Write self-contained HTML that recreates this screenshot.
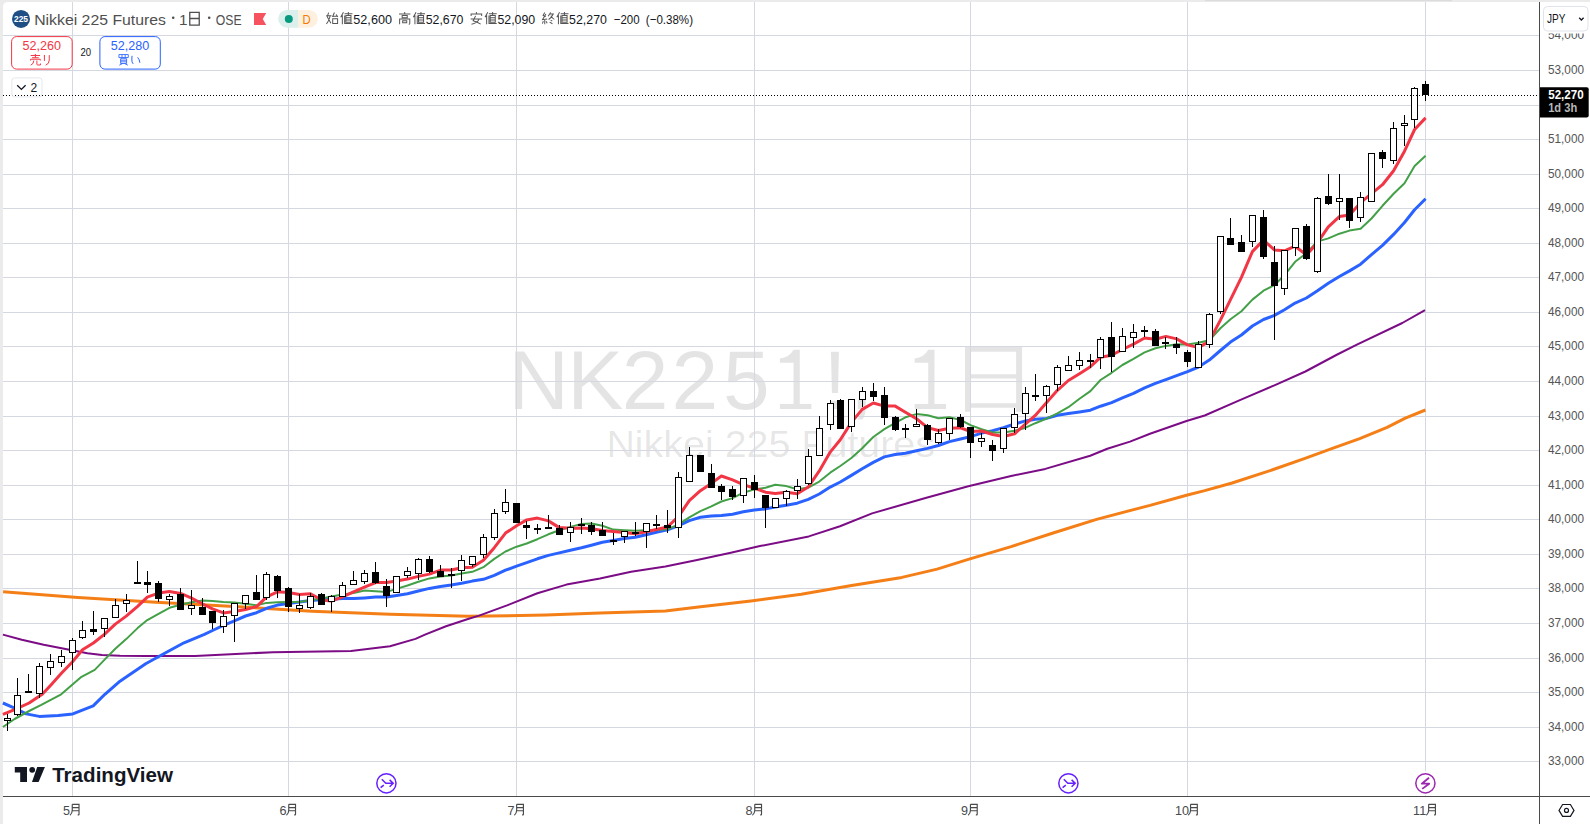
<!DOCTYPE html>
<html><head><meta charset="utf-8"><title>NK2251! chart</title>
<style>html,body{margin:0;padding:0;width:1590px;height:824px;overflow:hidden;background:#ebebeb;font-family:"Liberation Sans",sans-serif}</style>
</head><body>
<svg width="1590" height="824" viewBox="0 0 1590 824" style="position:absolute;left:0;top:0;display:block" font-family="&quot;Liberation Sans&quot;, sans-serif"><rect x="0" y="0" width="1590" height="824" fill="#ebebeb"/><path d="M3,7 Q3,2 8,2 H1590 V824 H3 Z" fill="#ffffff"/><rect x="1205" y="0" width="247" height="1.2" fill="#dcdcdc"/><g fill="#000" fill-opacity="0.105" font-size="84"><text x="508.3" y="409">N</text><text x="567.2" y="409">K</text><text x="621.8" y="409">2</text><text x="671.5" y="409">2</text><text x="723.0" y="409">5</text><text x="823.2" y="409">!</text><text x="850" y="409">,</text><path d="M793.5,349.7 H799.8 V404.1 H811.4000000000001 V408.9 H779.9000000000001 V404.1 H793.5 V362.8 H779.9000000000001 V358.4 Q789.3,357.5 793.5,349.7 Z"/><path d="M928.2,349.7 H934.5 V404.1 H946.1 V408.9 H914.6 V404.1 H928.2 V362.8 H914.6 V358.4 Q924,357.5 928.2,349.7 Z"/><path d="M965,346.8 H1022.1 V411.7 H1016.1 V407.7 H970.9 V411.7 H965 Z M970.9,351.8 V374.2 H1016.1 V351.8 Z M970.9,378.6 V403.3 H1016.1 V378.6 Z" fill-rule="evenodd"/><text transform="translate(606.4,0) scale(1.054,1)" x="0" y="457" font-size="37.4">Nikkei 225 Futures</text></g><g stroke="#d5d8e0" stroke-width="1" shape-rendering="crispEdges"><line x1="3" y1="35.5" x2="1539" y2="35.5"/><line x1="3" y1="70.5" x2="1539" y2="70.5"/><line x1="3" y1="105.5" x2="1539" y2="105.5"/><line x1="3" y1="139.5" x2="1539" y2="139.5"/><line x1="3" y1="174.5" x2="1539" y2="174.5"/><line x1="3" y1="208.5" x2="1539" y2="208.5"/><line x1="3" y1="243.5" x2="1539" y2="243.5"/><line x1="3" y1="277.5" x2="1539" y2="277.5"/><line x1="3" y1="312.5" x2="1539" y2="312.5"/><line x1="3" y1="346.5" x2="1539" y2="346.5"/><line x1="3" y1="381.5" x2="1539" y2="381.5"/><line x1="3" y1="416.5" x2="1539" y2="416.5"/><line x1="3" y1="450.5" x2="1539" y2="450.5"/><line x1="3" y1="485.5" x2="1539" y2="485.5"/><line x1="3" y1="519.5" x2="1539" y2="519.5"/><line x1="3" y1="554.5" x2="1539" y2="554.5"/><line x1="3" y1="588.5" x2="1539" y2="588.5"/><line x1="3" y1="623.5" x2="1539" y2="623.5"/><line x1="3" y1="658.5" x2="1539" y2="658.5"/><line x1="3" y1="692.5" x2="1539" y2="692.5"/><line x1="3" y1="727.5" x2="1539" y2="727.5"/><line x1="3" y1="761.5" x2="1539" y2="761.5"/><line x1="72.5" y1="2" x2="72.5" y2="796"/><line x1="288.5" y1="2" x2="288.5" y2="796"/><line x1="516.5" y1="2" x2="516.5" y2="796"/><line x1="754.5" y1="2" x2="754.5" y2="796"/><line x1="970.5" y1="2" x2="970.5" y2="796"/><line x1="1187.5" y1="2" x2="1187.5" y2="796"/><line x1="1425.5" y1="2" x2="1425.5" y2="796"/></g><path d="M3.1,591.7 L78.0,597.5 L156.0,602.2 L234.0,606.5 L312.0,611.2 L390.0,614.3 L468.0,616.3 L546.0,615.1 L600.0,613.1 L665.4,611.1 L700.6,606.8 L750.9,601.0 L801.3,594.2 L851.6,585.4 L901.9,577.4 L937.1,569.1 L968.3,559.4 L1011.1,546.6 L1053.9,532.7 L1096.6,519.4 L1139.4,508.1 L1150.0,505.4 L1186.5,495.2 L1204.7,490.6 L1232.1,483.0 L1274.0,469.3 L1305.0,458.4 L1332.4,448.3 L1359.7,438.7 L1387.1,427.4 L1405.3,418.2 L1425.4,410.0" fill="none" stroke="#f57f17" stroke-width="3" stroke-linejoin="round" stroke-linecap="butt"/><path d="M2.9,634.6 L21.8,639.7 L43.7,644.8 L65.5,649.1 L87.4,653.2 L101.9,655.0 L120.0,655.7 L145.7,656.0 L195.0,656.0 L273.0,652.2 L351.0,651.0 L390.0,646.3 L415.5,638.9 L425.0,634.6 L446.0,626.2 L468.0,619.0 L479.1,615.6 L507.0,605.4 L537.4,593.3 L566.5,584.6 L600.0,578.4 L631.1,571.7 L665.4,566.5 L697.1,560.1 L730.8,552.7 L760.0,546.1 L808.8,536.4 L840.0,526.2 L872.1,513.4 L925.5,498.0 L968.3,486.2 L1011.1,476.0 L1045.3,468.9 L1090.2,455.7 L1107.3,448.8 L1130.0,441.6 L1150.0,433.7 L1186.5,421.0 L1204.7,415.5 L1239.3,400.4 L1274.4,385.3 L1305.4,371.5 L1336.3,355.0 L1356.9,344.7 L1402.3,323.0 L1425.0,310.2" fill="none" stroke="#7b0c86" stroke-width="2" stroke-linejoin="round" stroke-linecap="butt"/><path d="M2.9,703.0 L14.6,708.1 L26.2,713.9 L39.3,716.4 L58.3,715.4 L72.8,713.9 L93.2,705.9 L104.9,694.3 L120.0,681.2 L126.2,677.1 L145.7,663.8 L167.0,652.0 L184.0,642.8 L204.4,634.3 L212.5,630.5 L223.4,625.4 L234.4,620.8 L245.5,616.0 L256.5,612.7 L266.7,608.3 L277.4,605.1 L288.4,603.4 L299.5,602.1 L310.5,600.4 L321.6,599.7 L331.4,599.3 L342.5,598.6 L353.5,598.5 L364.5,597.9 L375.6,597.1 L386.6,597.1 L396.5,595.4 L407.5,593.8 L418.4,591.0 L429.4,588.4 L440.5,586.4 L451.2,585.0 L461.7,583.3 L472.3,581.1 L483.4,579.3 L494.3,575.4 L505.5,570.2 L516.6,566.1 L526.7,562.7 L537.4,558.8 L548.4,555.4 L559.3,552.9 L570.4,550.2 L581.5,547.8 L591.4,545.3 L602.4,542.3 L613.2,540.5 L624.3,538.5 L635.3,537.2 L646.2,534.8 L656.3,532.2 L667.4,529.8 L678.6,525.7 L689.3,520.6 L700.4,517.3 L711.3,516.1 L721.4,515.6 L732.6,514.2 L743.3,511.8 L754.4,509.9 L765.5,508.9 L775.2,507.0 L786.3,505.2 L797.2,503.2 L808.3,499.4 L819.3,494.0 L830.2,487.1 L840.3,482.0 L851.4,475.4 L862.2,468.8 L873.3,462.4 L884.4,456.9 L895.2,454.5 L905.4,453.2 L916.5,450.8 L927.6,448.4 L938.4,445.5 L949.5,441.6 L960.6,439.0 L970.5,436.6 L981.6,433.1 L992.6,430.8 L1003.5,427.6 L1014.6,424.0 L1025.6,420.9 L1035.3,419.3 L1046.6,418.4 L1057.4,415.3 L1068.4,413.6 L1079.5,412.0 L1090.4,410.2 L1100.5,406.2 L1111.6,402.6 L1122.4,397.9 L1133.5,393.3 L1144.6,387.8 L1155.4,383.4 L1165.9,379.6 L1176.6,375.7 L1187.5,371.7 L1198.5,367.0 L1209.3,360.1 L1220.4,350.5 L1230.5,342.1 L1241.4,335.0 L1252.4,326.0 L1263.5,319.5 L1274.4,315.4 L1284.5,309.7 L1295.1,303.1 L1306.4,298.0 L1317.1,291.0 L1328.3,283.3 L1339.4,276.5 L1349.5,270.9 L1360.6,264.2 L1371.5,254.6 L1382.5,245.4 L1393.6,234.4 L1404.5,222.5 L1414.6,209.7 L1425.6,198.7" fill="none" stroke="#2962ff" stroke-width="3" stroke-linejoin="round" stroke-linecap="butt"/><path d="M2.9,727.0 L14.6,719.0 L29.1,711.0 L40.8,705.2 L61.2,694.3 L81.5,676.8 L94.7,669.9 L104.4,659.9 L115.3,648.7 L126.2,639.1 L137.6,628.1 L147.3,620.1 L158.5,613.8 L169.5,607.8 L180.6,604.8 L191.6,602.3 L202.7,600.6 L212.5,601.0 L223.4,602.1 L234.4,602.5 L245.5,603.8 L256.5,605.3 L266.7,602.9 L277.4,602.3 L288.4,602.0 L299.5,602.1 L310.5,600.2 L321.6,598.5 L331.4,596.5 L342.5,594.6 L353.5,593.1 L364.5,590.5 L375.6,591.3 L386.6,591.9 L396.5,588.9 L407.5,585.5 L418.4,581.8 L429.4,578.4 L440.5,576.4 L451.2,575.4 L461.7,573.4 L472.3,571.8 L483.4,567.2 L494.3,558.9 L505.5,551.5 L516.6,546.7 L526.7,543.5 L537.4,539.2 L548.4,534.3 L559.3,530.3 L570.4,526.9 L581.5,523.9 L591.4,523.4 L602.4,525.8 L613.2,529.6 L624.3,530.3 L635.3,530.8 L646.2,530.3 L656.3,530.0 L667.4,529.3 L678.6,524.4 L689.3,517.3 L700.4,511.2 L711.3,506.4 L721.4,501.5 L732.6,498.1 L743.3,492.7 L754.4,489.4 L765.5,487.8 L775.2,484.7 L786.3,486.1 L797.2,489.2 L808.3,487.6 L819.3,481.6 L830.2,472.7 L840.3,466.0 L851.4,458.0 L862.2,448.2 L873.3,437.0 L884.4,429.1 L895.2,422.9 L905.4,417.3 L916.5,414.1 L927.6,415.3 L938.4,418.3 L949.5,417.2 L960.6,420.0 L970.5,425.1 L981.6,429.3 L992.6,432.5 L1003.5,432.4 L1014.6,430.8 L1025.6,427.7 L1035.3,423.2 L1046.6,418.6 L1057.4,413.4 L1068.4,407.2 L1079.5,398.8 L1090.4,391.1 L1100.5,380.0 L1111.6,372.8 L1122.4,365.0 L1133.5,358.9 L1144.6,352.4 L1155.4,348.3 L1165.9,345.9 L1176.6,344.2 L1187.5,344.5 L1198.5,342.8 L1209.3,340.3 L1220.4,328.3 L1230.5,319.2 L1241.4,311.2 L1252.4,299.6 L1263.5,290.7 L1274.4,285.0 L1284.5,275.2 L1295.1,261.8 L1306.4,253.3 L1317.1,241.6 L1328.3,238.4 L1339.4,233.7 L1349.5,230.6 L1360.6,228.8 L1371.5,218.5 L1382.5,205.8 L1393.6,193.7 L1404.5,183.2 L1414.6,166.1 L1425.6,155.8" fill="none" stroke="#43a047" stroke-width="2" stroke-linejoin="round" stroke-linecap="butt"/><path d="M2.9,714.4 L14.6,709.6 L29.1,703.0 L42.2,694.3 L50.5,685.4 L61.4,673.2 L72.3,662.0 L82.5,649.8 L93.4,643.0 L104.4,634.4 L115.3,624.1 L126.2,616.1 L137.6,606.4 L147.3,597.1 L158.5,593.1 L169.5,591.4 L180.6,593.4 L191.6,598.1 L202.7,604.0 L212.5,608.9 L223.4,612.9 L234.4,611.6 L245.5,609.6 L256.5,606.6 L266.7,596.9 L277.4,591.8 L288.4,592.5 L299.5,594.5 L310.5,593.8 L321.6,600.0 L331.4,601.1 L342.5,596.8 L353.5,591.8 L364.5,587.2 L375.6,582.6 L386.6,582.6 L396.5,580.9 L407.5,579.1 L418.4,576.4 L429.4,574.1 L440.5,570.1 L451.2,570.0 L461.7,567.8 L472.3,567.2 L483.4,560.3 L494.3,547.7 L505.5,533.1 L516.6,525.7 L526.7,519.9 L537.4,518.1 L548.4,520.9 L559.3,527.6 L570.4,528.2 L581.5,527.9 L591.4,528.8 L602.4,530.6 L613.2,531.6 L624.3,532.5 L635.3,533.8 L646.2,531.8 L656.3,529.5 L667.4,527.0 L678.6,516.3 L689.3,500.7 L700.4,490.7 L711.3,483.4 L721.4,476.0 L732.6,479.9 L743.3,484.6 L754.4,488.2 L765.5,492.2 L775.2,493.4 L786.3,492.3 L797.2,493.7 L808.3,487.0 L819.3,470.9 L830.2,452.1 L840.3,439.7 L851.4,422.4 L862.2,409.4 L873.3,403.0 L884.4,406.1 L895.2,406.1 L905.4,412.2 L916.5,418.8 L927.6,427.6 L938.4,430.5 L949.5,428.3 L960.6,427.8 L970.5,431.5 L981.6,431.0 L992.6,434.5 L1003.5,436.5 L1014.6,433.8 L1025.6,423.9 L1035.3,415.4 L1046.6,402.6 L1057.4,390.3 L1068.4,380.5 L1079.5,373.7 L1090.4,366.7 L1100.5,357.3 L1111.6,355.3 L1122.4,349.5 L1133.5,344.1 L1144.6,338.0 L1155.4,339.3 L1165.9,336.4 L1176.6,338.9 L1187.5,344.9 L1198.5,347.6 L1209.3,341.3 L1220.4,320.1 L1230.5,299.6 L1241.4,277.4 L1252.4,251.6 L1263.5,240.1 L1274.4,249.9 L1284.5,250.8 L1295.1,246.2 L1306.4,254.9 L1317.1,243.2 L1328.3,226.9 L1339.4,216.6 L1349.5,215.1 L1360.6,202.7 L1371.5,193.7 L1382.5,184.7 L1393.6,170.7 L1404.5,151.2 L1414.6,129.5 L1425.6,117.9" fill="none" stroke="#f23645" stroke-width="3" stroke-linejoin="round" stroke-linecap="butt"/><g shape-rendering="crispEdges"><rect x="7" y="714.3" width="1" height="16.2" fill="#000"/><rect x="4" y="718" width="7" height="3" fill="#000"/><rect x="5" y="719" width="5" height="1" fill="#fff"/><rect x="17" y="678.3" width="1" height="37.7" fill="#000"/><rect x="14" y="695" width="7" height="20" fill="#000"/><rect x="15" y="696" width="5" height="18" fill="#fff"/><rect x="28" y="674.0" width="1" height="18.4" fill="#000"/><rect x="25" y="691" width="7" height="2" fill="#000"/><rect x="39" y="662.6" width="1" height="35.2" fill="#000"/><rect x="36" y="666" width="7" height="28" fill="#000"/><rect x="37" y="667" width="5" height="26" fill="#fff"/><rect x="50" y="654.0" width="1" height="20.7" fill="#000"/><rect x="47" y="661" width="7" height="7" fill="#000"/><rect x="48" y="662" width="5" height="5" fill="#fff"/><rect x="61" y="650.4" width="1" height="17.0" fill="#000"/><rect x="58" y="656" width="7" height="7" fill="#000"/><rect x="59" y="657" width="5" height="5" fill="#fff"/><rect x="72" y="638.3" width="1" height="31.6" fill="#000"/><rect x="69" y="640" width="7" height="13" fill="#000"/><rect x="70" y="641" width="5" height="11" fill="#fff"/><rect x="82" y="621.3" width="1" height="17.7" fill="#000"/><rect x="79" y="630" width="7" height="8" fill="#000"/><rect x="80" y="631" width="5" height="6" fill="#fff"/><rect x="93" y="611.0" width="1" height="23.7" fill="#000"/><rect x="90" y="629" width="7" height="3" fill="#000"/><rect x="104" y="618.4" width="1" height="18.6" fill="#000"/><rect x="101" y="618" width="7" height="11" fill="#000"/><rect x="102" y="619" width="5" height="9" fill="#fff"/><rect x="115" y="599.0" width="1" height="18.7" fill="#000"/><rect x="112" y="605" width="7" height="13" fill="#000"/><rect x="113" y="606" width="5" height="11" fill="#fff"/><rect x="126" y="594.0" width="1" height="18.0" fill="#000"/><rect x="123" y="600" width="7" height="4" fill="#000"/><rect x="124" y="601" width="5" height="2" fill="#fff"/><rect x="137" y="561.4" width="1" height="21.1" fill="#000"/><rect x="134" y="582" width="7" height="2" fill="#000"/><rect x="147" y="571.0" width="1" height="22.0" fill="#000"/><rect x="144" y="582" width="7" height="3" fill="#000"/><rect x="158" y="580.8" width="1" height="20.7" fill="#000"/><rect x="155" y="583" width="7" height="16" fill="#000"/><rect x="169" y="594.0" width="1" height="12.0" fill="#000"/><rect x="166" y="596" width="7" height="4" fill="#000"/><rect x="167" y="597" width="5" height="2" fill="#fff"/><rect x="180" y="588.0" width="1" height="21.6" fill="#000"/><rect x="177" y="594" width="7" height="16" fill="#000"/><rect x="191" y="590.0" width="1" height="24.7" fill="#000"/><rect x="188" y="605" width="7" height="4" fill="#000"/><rect x="189" y="606" width="5" height="2" fill="#fff"/><rect x="202" y="598.0" width="1" height="16.7" fill="#000"/><rect x="199" y="607" width="7" height="8" fill="#000"/><rect x="212" y="611.0" width="1" height="17.7" fill="#000"/><rect x="209" y="611" width="7" height="12" fill="#000"/><rect x="223" y="610.0" width="1" height="22.6" fill="#000"/><rect x="220" y="616" width="7" height="11" fill="#000"/><rect x="221" y="617" width="5" height="9" fill="#fff"/><rect x="234" y="603.4" width="1" height="38.5" fill="#000"/><rect x="231" y="603" width="7" height="13" fill="#000"/><rect x="232" y="604" width="5" height="11" fill="#fff"/><rect x="245" y="595.2" width="1" height="13.6" fill="#000"/><rect x="242" y="595" width="7" height="9" fill="#000"/><rect x="243" y="596" width="5" height="7" fill="#fff"/><rect x="256" y="575.2" width="1" height="24.6" fill="#000"/><rect x="253" y="592" width="7" height="8" fill="#000"/><rect x="266" y="572.0" width="1" height="27.8" fill="#000"/><rect x="263" y="574" width="7" height="24" fill="#000"/><rect x="264" y="575" width="5" height="22" fill="#fff"/><rect x="277" y="575.2" width="1" height="22.5" fill="#000"/><rect x="274" y="576" width="7" height="15" fill="#000"/><rect x="288" y="587.2" width="1" height="24.5" fill="#000"/><rect x="285" y="588" width="7" height="19" fill="#000"/><rect x="299" y="594.0" width="1" height="18.7" fill="#000"/><rect x="296" y="605" width="7" height="4" fill="#000"/><rect x="297" y="606" width="5" height="2" fill="#fff"/><rect x="310" y="593.4" width="1" height="15.3" fill="#000"/><rect x="307" y="596" width="7" height="12" fill="#000"/><rect x="308" y="597" width="5" height="10" fill="#fff"/><rect x="321" y="593.4" width="1" height="12.0" fill="#000"/><rect x="318" y="594" width="7" height="11" fill="#000"/><rect x="331" y="594.7" width="1" height="17.0" fill="#000"/><rect x="328" y="596" width="7" height="6" fill="#000"/><rect x="329" y="597" width="5" height="4" fill="#fff"/><rect x="342" y="582.3" width="1" height="15.0" fill="#000"/><rect x="339" y="585" width="7" height="12" fill="#000"/><rect x="340" y="586" width="5" height="10" fill="#fff"/><rect x="353" y="571.0" width="1" height="14.4" fill="#000"/><rect x="350" y="580" width="7" height="5" fill="#000"/><rect x="351" y="581" width="5" height="3" fill="#fff"/><rect x="364" y="570.1" width="1" height="13.6" fill="#000"/><rect x="361" y="573" width="7" height="9" fill="#000"/><rect x="362" y="574" width="5" height="7" fill="#fff"/><rect x="375" y="562.1" width="1" height="22.1" fill="#000"/><rect x="372" y="572" width="7" height="11" fill="#000"/><rect x="386" y="579.1" width="1" height="27.5" fill="#000"/><rect x="383" y="586" width="7" height="10" fill="#000"/><rect x="396" y="576.4" width="1" height="17.0" fill="#000"/><rect x="393" y="576" width="7" height="17" fill="#000"/><rect x="394" y="577" width="5" height="15" fill="#fff"/><rect x="407" y="567.2" width="1" height="10.5" fill="#000"/><rect x="404" y="571" width="7" height="5" fill="#000"/><rect x="405" y="572" width="5" height="3" fill="#fff"/><rect x="418" y="558.2" width="1" height="22.1" fill="#000"/><rect x="415" y="559" width="7" height="15" fill="#000"/><rect x="416" y="560" width="5" height="13" fill="#fff"/><rect x="429" y="556.0" width="1" height="16.7" fill="#000"/><rect x="426" y="559" width="7" height="13" fill="#000"/><rect x="440" y="565.0" width="1" height="11.6" fill="#000"/><rect x="437" y="571" width="7" height="6" fill="#000"/><rect x="451" y="568.4" width="1" height="19.2" fill="#000"/><rect x="448" y="574" width="7" height="2" fill="#000"/><rect x="461" y="554.9" width="1" height="25.8" fill="#000"/><rect x="458" y="560" width="7" height="11" fill="#000"/><rect x="459" y="561" width="5" height="9" fill="#fff"/><rect x="472" y="556.4" width="1" height="10.7" fill="#000"/><rect x="469" y="556" width="7" height="9" fill="#000"/><rect x="470" y="557" width="5" height="7" fill="#fff"/><rect x="483" y="534.1" width="1" height="23.7" fill="#000"/><rect x="480" y="537" width="7" height="18" fill="#000"/><rect x="481" y="538" width="5" height="16" fill="#fff"/><rect x="494" y="509.4" width="1" height="30.1" fill="#000"/><rect x="491" y="513" width="7" height="25" fill="#000"/><rect x="492" y="514" width="5" height="23" fill="#fff"/><rect x="505" y="489.0" width="1" height="24.7" fill="#000"/><rect x="502" y="502" width="7" height="10" fill="#000"/><rect x="503" y="503" width="5" height="8" fill="#fff"/><rect x="516" y="503.4" width="1" height="20.0" fill="#000"/><rect x="513" y="503" width="7" height="20" fill="#000"/><rect x="526" y="521.0" width="1" height="17.5" fill="#000"/><rect x="523" y="525" width="7" height="3" fill="#000"/><rect x="537" y="524.4" width="1" height="9.3" fill="#000"/><rect x="534" y="528" width="7" height="2" fill="#000"/><rect x="548" y="515.2" width="1" height="14.0" fill="#000"/><rect x="545" y="527" width="7" height="2" fill="#000"/><rect x="559" y="525.3" width="1" height="10.1" fill="#000"/><rect x="556" y="528" width="7" height="7" fill="#000"/><rect x="570" y="522.0" width="1" height="19.5" fill="#000"/><rect x="567" y="527" width="7" height="6" fill="#000"/><rect x="568" y="528" width="5" height="4" fill="#fff"/><rect x="581" y="518.2" width="1" height="15.5" fill="#000"/><rect x="578" y="524" width="7" height="2" fill="#000"/><rect x="591" y="521.5" width="1" height="13.0" fill="#000"/><rect x="588" y="525" width="7" height="7" fill="#000"/><rect x="602" y="521.5" width="1" height="14.9" fill="#000"/><rect x="599" y="530" width="7" height="6" fill="#000"/><rect x="613" y="532.9" width="1" height="11.7" fill="#000"/><rect x="610" y="540" width="7" height="2" fill="#000"/><rect x="624" y="531.0" width="1" height="11.6" fill="#000"/><rect x="621" y="531" width="7" height="6" fill="#000"/><rect x="622" y="532" width="5" height="4" fill="#fff"/><rect x="635" y="522.2" width="1" height="13.6" fill="#000"/><rect x="632" y="532" width="7" height="2" fill="#000"/><rect x="646" y="522.6" width="1" height="25.8" fill="#000"/><rect x="643" y="523" width="7" height="9" fill="#000"/><rect x="644" y="524" width="5" height="7" fill="#fff"/><rect x="656" y="514.9" width="1" height="14.1" fill="#000"/><rect x="653" y="524" width="7" height="2" fill="#000"/><rect x="667" y="510.0" width="1" height="23.3" fill="#000"/><rect x="664" y="525" width="7" height="3" fill="#000"/><rect x="678" y="471.7" width="1" height="66.1" fill="#000"/><rect x="675" y="477" width="7" height="51" fill="#000"/><rect x="676" y="478" width="5" height="49" fill="#fff"/><rect x="689" y="447.1" width="1" height="34.4" fill="#000"/><rect x="686" y="455" width="7" height="27" fill="#000"/><rect x="687" y="456" width="5" height="25" fill="#fff"/><rect x="700" y="455.2" width="1" height="17.1" fill="#000"/><rect x="697" y="455" width="7" height="17" fill="#000"/><rect x="711" y="464.4" width="1" height="23.9" fill="#000"/><rect x="708" y="473" width="7" height="15" fill="#000"/><rect x="721" y="484.4" width="1" height="15.1" fill="#000"/><rect x="718" y="486" width="7" height="6" fill="#000"/><rect x="732" y="486.3" width="1" height="13.2" fill="#000"/><rect x="729" y="489" width="7" height="8" fill="#000"/><rect x="743" y="478.5" width="1" height="24.3" fill="#000"/><rect x="740" y="478" width="7" height="18" fill="#000"/><rect x="741" y="479" width="5" height="16" fill="#fff"/><rect x="754" y="475.2" width="1" height="23.1" fill="#000"/><rect x="751" y="482" width="7" height="8" fill="#000"/><rect x="765" y="495.2" width="1" height="33.1" fill="#000"/><rect x="762" y="495" width="7" height="13" fill="#000"/><rect x="775" y="497.6" width="1" height="9.9" fill="#000"/><rect x="772" y="498" width="7" height="10" fill="#000"/><rect x="773" y="499" width="5" height="8" fill="#fff"/><rect x="786" y="490.4" width="1" height="15.5" fill="#000"/><rect x="783" y="491" width="7" height="8" fill="#000"/><rect x="784" y="492" width="5" height="6" fill="#fff"/><rect x="797" y="479.3" width="1" height="19.2" fill="#000"/><rect x="794" y="486" width="7" height="5" fill="#000"/><rect x="795" y="487" width="5" height="3" fill="#fff"/><rect x="808" y="449.2" width="1" height="35.4" fill="#000"/><rect x="805" y="456" width="7" height="28" fill="#000"/><rect x="806" y="457" width="5" height="26" fill="#fff"/><rect x="819" y="416.2" width="1" height="40.2" fill="#000"/><rect x="816" y="428" width="7" height="28" fill="#000"/><rect x="817" y="429" width="5" height="26" fill="#fff"/><rect x="830" y="400.1" width="1" height="29.5" fill="#000"/><rect x="827" y="403" width="7" height="22" fill="#000"/><rect x="828" y="404" width="5" height="20" fill="#fff"/><rect x="840" y="399.1" width="1" height="30.1" fill="#000"/><rect x="837" y="400" width="7" height="29" fill="#000"/><rect x="851" y="399.1" width="1" height="32.6" fill="#000"/><rect x="848" y="399" width="7" height="28" fill="#000"/><rect x="849" y="400" width="5" height="26" fill="#fff"/><rect x="862" y="387.1" width="1" height="19.8" fill="#000"/><rect x="859" y="391" width="7" height="9" fill="#000"/><rect x="860" y="392" width="5" height="7" fill="#fff"/><rect x="873" y="383.2" width="1" height="17.9" fill="#000"/><rect x="870" y="391" width="7" height="6" fill="#000"/><rect x="884" y="387.1" width="1" height="38.2" fill="#000"/><rect x="881" y="395" width="7" height="23" fill="#000"/><rect x="895" y="415.6" width="1" height="15.0" fill="#000"/><rect x="892" y="417" width="7" height="13" fill="#000"/><rect x="905" y="424.4" width="1" height="13.9" fill="#000"/><rect x="902" y="428" width="7" height="2" fill="#000"/><rect x="916" y="409.2" width="1" height="18.1" fill="#000"/><rect x="913" y="424" width="7" height="3" fill="#000"/><rect x="914" y="425" width="5" height="1" fill="#fff"/><rect x="927" y="424.4" width="1" height="20.9" fill="#000"/><rect x="924" y="425" width="7" height="15" fill="#000"/><rect x="938" y="429.2" width="1" height="14.6" fill="#000"/><rect x="935" y="433" width="7" height="10" fill="#000"/><rect x="936" y="434" width="5" height="8" fill="#fff"/><rect x="949" y="418.5" width="1" height="21.0" fill="#000"/><rect x="946" y="418" width="7" height="16" fill="#000"/><rect x="947" y="419" width="5" height="14" fill="#fff"/><rect x="960" y="414.3" width="1" height="14.0" fill="#000"/><rect x="957" y="417" width="7" height="10" fill="#000"/><rect x="970" y="427.3" width="1" height="30.5" fill="#000"/><rect x="967" y="427" width="7" height="16" fill="#000"/><rect x="981" y="433.1" width="1" height="13.6" fill="#000"/><rect x="978" y="438" width="7" height="4" fill="#000"/><rect x="979" y="439" width="5" height="2" fill="#fff"/><rect x="992" y="440.3" width="1" height="20.4" fill="#000"/><rect x="989" y="445" width="7" height="6" fill="#000"/><rect x="1003" y="428.3" width="1" height="24.2" fill="#000"/><rect x="1000" y="428" width="7" height="21" fill="#000"/><rect x="1001" y="429" width="5" height="19" fill="#fff"/><rect x="1014" y="408.3" width="1" height="24.4" fill="#000"/><rect x="1011" y="414" width="7" height="14" fill="#000"/><rect x="1012" y="415" width="5" height="12" fill="#fff"/><rect x="1025" y="386.5" width="1" height="43.3" fill="#000"/><rect x="1022" y="393" width="7" height="21" fill="#000"/><rect x="1023" y="394" width="5" height="19" fill="#fff"/><rect x="1035" y="373.9" width="1" height="26.8" fill="#000"/><rect x="1032" y="395" width="7" height="2" fill="#000"/><rect x="1046" y="385.1" width="1" height="27.6" fill="#000"/><rect x="1043" y="386" width="7" height="10" fill="#000"/><rect x="1044" y="387" width="5" height="8" fill="#fff"/><rect x="1057" y="365.0" width="1" height="26.3" fill="#000"/><rect x="1054" y="367" width="7" height="18" fill="#000"/><rect x="1055" y="368" width="5" height="16" fill="#fff"/><rect x="1068" y="356.3" width="1" height="15.0" fill="#000"/><rect x="1065" y="365" width="7" height="6" fill="#000"/><rect x="1066" y="366" width="5" height="4" fill="#fff"/><rect x="1079" y="352.0" width="1" height="17.5" fill="#000"/><rect x="1076" y="360" width="7" height="6" fill="#000"/><rect x="1077" y="361" width="5" height="4" fill="#fff"/><rect x="1090" y="354.4" width="1" height="13.2" fill="#000"/><rect x="1087" y="360" width="7" height="2" fill="#000"/><rect x="1100" y="336.9" width="1" height="31.6" fill="#000"/><rect x="1097" y="339" width="7" height="19" fill="#000"/><rect x="1098" y="340" width="5" height="17" fill="#fff"/><rect x="1111" y="322.3" width="1" height="49.5" fill="#000"/><rect x="1108" y="337" width="7" height="20" fill="#000"/><rect x="1122" y="328.2" width="1" height="24.2" fill="#000"/><rect x="1119" y="336" width="7" height="16" fill="#000"/><rect x="1120" y="337" width="5" height="14" fill="#fff"/><rect x="1133" y="324.3" width="1" height="23.3" fill="#000"/><rect x="1130" y="332" width="7" height="6" fill="#000"/><rect x="1131" y="333" width="5" height="4" fill="#fff"/><rect x="1144" y="326.2" width="1" height="10.7" fill="#000"/><rect x="1141" y="330" width="7" height="2" fill="#000"/><rect x="1155" y="329.1" width="1" height="16.9" fill="#000"/><rect x="1152" y="331" width="7" height="15" fill="#000"/><rect x="1165" y="336.9" width="1" height="11.6" fill="#000"/><rect x="1162" y="342" width="7" height="2" fill="#000"/><rect x="1176" y="337.3" width="1" height="16.7" fill="#000"/><rect x="1173" y="344" width="7" height="4" fill="#000"/><rect x="1187" y="349.5" width="1" height="17.5" fill="#000"/><rect x="1184" y="352" width="7" height="10" fill="#000"/><rect x="1198" y="340.8" width="1" height="26.8" fill="#000"/><rect x="1195" y="344" width="7" height="24" fill="#000"/><rect x="1196" y="345" width="5" height="22" fill="#fff"/><rect x="1209" y="312.9" width="1" height="35.4" fill="#000"/><rect x="1206" y="314" width="7" height="31" fill="#000"/><rect x="1207" y="315" width="5" height="29" fill="#fff"/><rect x="1220" y="235.6" width="1" height="78.7" fill="#000"/><rect x="1217" y="236" width="7" height="76" fill="#000"/><rect x="1218" y="237" width="5" height="74" fill="#fff"/><rect x="1230" y="218.2" width="1" height="27.1" fill="#000"/><rect x="1227" y="238" width="7" height="7" fill="#000"/><rect x="1241" y="235.2" width="1" height="16.4" fill="#000"/><rect x="1238" y="242" width="7" height="10" fill="#000"/><rect x="1252" y="215.2" width="1" height="31.5" fill="#000"/><rect x="1249" y="215" width="7" height="27" fill="#000"/><rect x="1250" y="216" width="5" height="25" fill="#fff"/><rect x="1263" y="210.0" width="1" height="48.5" fill="#000"/><rect x="1260" y="217" width="7" height="40" fill="#000"/><rect x="1274" y="246.3" width="1" height="93.2" fill="#000"/><rect x="1271" y="262" width="7" height="24" fill="#000"/><rect x="1284" y="249.6" width="1" height="45.3" fill="#000"/><rect x="1281" y="250" width="7" height="39" fill="#000"/><rect x="1282" y="251" width="5" height="37" fill="#fff"/><rect x="1295" y="228.4" width="1" height="27.6" fill="#000"/><rect x="1292" y="228" width="7" height="20" fill="#000"/><rect x="1293" y="229" width="5" height="18" fill="#fff"/><rect x="1306" y="224.0" width="1" height="35.9" fill="#000"/><rect x="1303" y="226" width="7" height="33" fill="#000"/><rect x="1317" y="197.4" width="1" height="75.1" fill="#000"/><rect x="1314" y="198" width="7" height="74" fill="#000"/><rect x="1315" y="199" width="5" height="72" fill="#fff"/><rect x="1328" y="173.9" width="1" height="30.7" fill="#000"/><rect x="1325" y="196" width="7" height="8" fill="#000"/><rect x="1339" y="173.9" width="1" height="45.9" fill="#000"/><rect x="1336" y="198" width="7" height="4" fill="#000"/><rect x="1337" y="199" width="5" height="2" fill="#fff"/><rect x="1349" y="198.2" width="1" height="29.6" fill="#000"/><rect x="1346" y="198" width="7" height="23" fill="#000"/><rect x="1360" y="191.9" width="1" height="29.9" fill="#000"/><rect x="1357" y="197" width="7" height="21" fill="#000"/><rect x="1358" y="198" width="5" height="19" fill="#fff"/><rect x="1371" y="152.5" width="1" height="49.2" fill="#000"/><rect x="1368" y="153" width="7" height="49" fill="#000"/><rect x="1369" y="154" width="5" height="47" fill="#fff"/><rect x="1382" y="150.2" width="1" height="17.5" fill="#000"/><rect x="1379" y="152" width="7" height="7" fill="#000"/><rect x="1393" y="121.5" width="1" height="42.3" fill="#000"/><rect x="1390" y="128" width="7" height="33" fill="#000"/><rect x="1391" y="129" width="5" height="31" fill="#fff"/><rect x="1404" y="115.2" width="1" height="30.5" fill="#000"/><rect x="1401" y="123" width="7" height="3" fill="#000"/><rect x="1402" y="124" width="5" height="1" fill="#fff"/><rect x="1414" y="86.5" width="1" height="41.8" fill="#000"/><rect x="1411" y="88" width="7" height="32" fill="#000"/><rect x="1412" y="89" width="5" height="30" fill="#fff"/><rect x="1425" y="81.3" width="1" height="19.4" fill="#000"/><rect x="1422" y="84" width="7" height="11" fill="#000"/></g><line x1="3" y1="95.5" x2="1539" y2="95.5" stroke="#000" stroke-width="1" stroke-dasharray="1 2" shape-rendering="crispEdges"/><g shape-rendering="crispEdges" fill="#4a4a4a"><rect x="1539" y="2" width="1" height="822"/><rect x="3" y="796" width="1587" height="1"/></g><g font-size="12.4" fill="#555" text-anchor="start"><text x="1548" y="38.8" textLength="36" lengthAdjust="spacingAndGlyphs">54,000</text><text x="1548" y="73.8" textLength="36" lengthAdjust="spacingAndGlyphs">53,000</text><text x="1548" y="108.8" textLength="36" lengthAdjust="spacingAndGlyphs">52,000</text><text x="1548" y="142.8" textLength="36" lengthAdjust="spacingAndGlyphs">51,000</text><text x="1548" y="177.8" textLength="36" lengthAdjust="spacingAndGlyphs">50,000</text><text x="1548" y="211.8" textLength="36" lengthAdjust="spacingAndGlyphs">49,000</text><text x="1548" y="246.8" textLength="36" lengthAdjust="spacingAndGlyphs">48,000</text><text x="1548" y="280.8" textLength="36" lengthAdjust="spacingAndGlyphs">47,000</text><text x="1548" y="315.8" textLength="36" lengthAdjust="spacingAndGlyphs">46,000</text><text x="1548" y="349.8" textLength="36" lengthAdjust="spacingAndGlyphs">45,000</text><text x="1548" y="384.8" textLength="36" lengthAdjust="spacingAndGlyphs">44,000</text><text x="1548" y="419.8" textLength="36" lengthAdjust="spacingAndGlyphs">43,000</text><text x="1548" y="453.8" textLength="36" lengthAdjust="spacingAndGlyphs">42,000</text><text x="1548" y="488.8" textLength="36" lengthAdjust="spacingAndGlyphs">41,000</text><text x="1548" y="522.8" textLength="36" lengthAdjust="spacingAndGlyphs">40,000</text><text x="1548" y="557.8" textLength="36" lengthAdjust="spacingAndGlyphs">39,000</text><text x="1548" y="591.8" textLength="36" lengthAdjust="spacingAndGlyphs">38,000</text><text x="1548" y="626.8" textLength="36" lengthAdjust="spacingAndGlyphs">37,000</text><text x="1548" y="661.8" textLength="36" lengthAdjust="spacingAndGlyphs">36,000</text><text x="1548" y="695.8" textLength="36" lengthAdjust="spacingAndGlyphs">35,000</text><text x="1548" y="730.8" textLength="36" lengthAdjust="spacingAndGlyphs">34,000</text><text x="1548" y="764.8" textLength="36" lengthAdjust="spacingAndGlyphs">33,000</text></g><rect x="1540" y="2" width="50" height="31.5" fill="#fff"/><rect x="1543.5" y="6.5" width="44.5" height="24.5" rx="4" fill="#fff" stroke="#e0e3eb"/><text x="1547" y="23.4" font-size="12.6" fill="#131722" textLength="18.5" lengthAdjust="spacingAndGlyphs">JPY</text><path d="M1579.2,17.8 L1581.4,20 L1583.6,17.8" fill="none" stroke="#131722" stroke-width="1.3"/><path d="M1540,87.2 H1586.7 Q1588.7,87.2 1588.7,89.2 V115.6 Q1588.7,117.6 1586.7,117.6 H1540 Z" fill="#000"/><text x="1548.2" y="98.8" font-size="12.4" font-weight="bold" fill="#fff" textLength="35.5" lengthAdjust="spacingAndGlyphs">52,270</text><text x="1548.2" y="112.4" font-size="12.4" font-weight="bold" fill="#b8b8b8" textLength="29" lengthAdjust="spacingAndGlyphs">1d 3h</text><g font-size="12.6" fill="#4a4a4a"><text x="62.9" y="814.6">5</text><path transform="translate(69.35,803.60) scale(0.9667)" d="M3,0.8 H10 V11 Q10,12 8.6,11.6 M3,0.8 V7 Q3,10.4 0.6,12 M3,4.2 H10 M3,7.4 H10" fill="none" stroke="#4a4a4a" stroke-width="1.190" stroke-linecap="butt" stroke-linejoin="miter"/><text x="279.4" y="814.6">6</text><path transform="translate(285.85,803.60) scale(0.9667)" d="M3,0.8 H10 V11 Q10,12 8.6,11.6 M3,0.8 V7 Q3,10.4 0.6,12 M3,4.2 H10 M3,7.4 H10" fill="none" stroke="#4a4a4a" stroke-width="1.190" stroke-linecap="butt" stroke-linejoin="miter"/><text x="507.4" y="814.6">7</text><path transform="translate(513.75,803.60) scale(0.9667)" d="M3,0.8 H10 V11 Q10,12 8.6,11.6 M3,0.8 V7 Q3,10.4 0.6,12 M3,4.2 H10 M3,7.4 H10" fill="none" stroke="#4a4a4a" stroke-width="1.190" stroke-linecap="butt" stroke-linejoin="miter"/><text x="745.4" y="814.6">8</text><path transform="translate(751.85,803.60) scale(0.9667)" d="M3,0.8 H10 V11 Q10,12 8.6,11.6 M3,0.8 V7 Q3,10.4 0.6,12 M3,4.2 H10 M3,7.4 H10" fill="none" stroke="#4a4a4a" stroke-width="1.190" stroke-linecap="butt" stroke-linejoin="miter"/><text x="961.1" y="814.6">9</text><path transform="translate(967.55,803.60) scale(0.9667)" d="M3,0.8 H10 V11 Q10,12 8.6,11.6 M3,0.8 V7 Q3,10.4 0.6,12 M3,4.2 H10 M3,7.4 H10" fill="none" stroke="#4a4a4a" stroke-width="1.190" stroke-linecap="butt" stroke-linejoin="miter"/><text x="1175.0" y="814.6">10</text><path transform="translate(1187.65,803.60) scale(0.9667)" d="M3,0.8 H10 V11 Q10,12 8.6,11.6 M3,0.8 V7 Q3,10.4 0.6,12 M3,4.2 H10 M3,7.4 H10" fill="none" stroke="#4a4a4a" stroke-width="1.190" stroke-linecap="butt" stroke-linejoin="miter"/><text x="1413.1" y="814.6">11</text><path transform="translate(1425.75,803.60) scale(0.9667)" d="M3,0.8 H10 V11 Q10,12 8.6,11.6 M3,0.8 V7 Q3,10.4 0.6,12 M3,4.2 H10 M3,7.4 H10" fill="none" stroke="#4a4a4a" stroke-width="1.190" stroke-linecap="butt" stroke-linejoin="miter"/></g><path d="M1562.6,804.5 H1570.4 L1574,810.4 L1570.4,816.4 H1562.6 L1559,810.4 Z" fill="none" stroke="#131722" stroke-width="1.2"/><circle cx="1566.5" cy="810.4" r="2" fill="none" stroke="#131722" stroke-width="1.2"/><g><circle cx="386.4" cy="783.3" r="12" fill="#fff"/><circle cx="386.4" cy="783.3" r="9.6" fill="none" stroke="#651fff" stroke-width="1.5"/><path d="M381.79999999999995,779.3 L385.79999999999995,783.3 H393.2 M389.59999999999997,779.9 L393.2,783.3 L389.59999999999997,786.6999999999999 M380.59999999999997,787.6999999999999 L383.79999999999995,785.0999999999999" fill="none" stroke="#651fff" stroke-width="1.5"/></g><g><circle cx="1068.4" cy="783.3" r="12" fill="#fff"/><circle cx="1068.4" cy="783.3" r="9.6" fill="none" stroke="#651fff" stroke-width="1.5"/><path d="M1063.8000000000002,779.3 L1067.8000000000002,783.3 H1075.2 M1071.6000000000001,779.9 L1075.2,783.3 L1071.6000000000001,786.6999999999999 M1062.6000000000001,787.6999999999999 L1065.8000000000002,785.0999999999999" fill="none" stroke="#651fff" stroke-width="1.5"/></g><g><circle cx="1425.4" cy="783.3" r="12" fill="#fff"/><circle cx="1425.4" cy="783.3" r="9.6" fill="none" stroke="#9c27b0" stroke-width="1.5"/><path d="M1429.0,777.6999999999999 L1421.8000000000002,783.6999999999999 H1429.2 L1422.2,788.9" fill="none" stroke="#9c27b0" stroke-width="1.8" stroke-linejoin="round"/></g><g fill="#131722"><path d="M14.8,767 H27 V782 H20.2 V772.6 H14.8 Z"/><circle cx="32.2" cy="769.8" r="2.9"/><path d="M37.2,767 H44.9 L38.6,782 H32 Z"/><text x="52.2" y="782" font-size="20.6" font-weight="bold" textLength="120.8" lengthAdjust="spacingAndGlyphs">TradingView</text></g><circle cx="21" cy="18.9" r="9" fill="#1f4e84"/><text x="21" y="21.8" font-size="8.2" font-weight="bold" fill="#fff" text-anchor="middle" textLength="14" lengthAdjust="spacingAndGlyphs">225</text><text x="34.2" y="24.5" font-size="15.3" fill="#4f4f4f" textLength="131.8" lengthAdjust="spacingAndGlyphs">Nikkei 225 Futures</text><circle cx="173.2" cy="17.8" r="1.3" fill="#4f4f4f"/><text x="179" y="24.5" font-size="15.3" fill="#4f4f4f">1</text><path transform="translate(187.40,11.40) scale(1.1833)" d="M2,0.8 H10 V11.6 H2 Z M2,6 H10" fill="none" stroke="#4f4f4f" stroke-width="1.099" stroke-linecap="butt" stroke-linejoin="miter"/><circle cx="209.2" cy="17.8" r="1.3" fill="#4f4f4f"/><text x="215.8" y="24.5" font-size="15.3" fill="#4f4f4f" textLength="25.8" lengthAdjust="spacingAndGlyphs">OSE</text><path d="M254,13 H266.2 L262.8,18.9 L266.2,24.9 H254 Z" fill="#f7525f"/><path d="M287,10 H298 V27.7 H287 A8.85,8.85 0 0 1 287,10 Z" fill="#dbf0ec"/><path d="M298,10 H309 A8.85,8.85 0 0 1 309,27.7 H298 Z" fill="#fdf0df"/><circle cx="288.8" cy="18.9" r="4" fill="#089981"/><text x="302.6" y="23.7" font-size="12.6" fill="#f57c00" textLength="8.2" lengthAdjust="spacingAndGlyphs">D</text><path transform="translate(326.00,12.00) scale(1.0167)" d="M2.6,0.6 L1.2,4.6 Q3.5,8.5 4.8,11 M4.2,3.2 Q3,9 0.4,11.6 M0.2,3.6 H5.4 M8.3,0.5 L6.6,4.4 L11.2,3.9 M10,2.4 L11.6,5 M6.6,6.6 H11.4 V11.4 H6.6 Z" fill="none" stroke="#555" stroke-width="0.984" stroke-linecap="butt" stroke-linejoin="miter"/><path transform="translate(340.20,12.00) scale(1.0167)" d="M3.2,0.3 L0.5,5.2 M2.1,3.2 V12 M4.3,1.6 H12 M8,0 V3 M5.6,3.4 H10.6 V10 H5.6 Z M5.6,5.6 H10.6 M5.6,7.8 H10.6 M4.4,3.5 V11.4 H12" fill="none" stroke="#555" stroke-width="0.984" stroke-linecap="butt" stroke-linejoin="miter"/><text x="353.3" y="23.9" font-size="12.9" fill="#131722" textLength="38.7" lengthAdjust="spacingAndGlyphs">52,600</text><path transform="translate(398.60,12.00) scale(1.0167)" d="M6,0 V1.6 M0.4,1.9 H11.6 M3.5,3.4 H8.5 V5.6 H3.5 Z M1,12 V7 H11 V11.2 Q11,12 10,12 M4,8.6 H8 V10.6 H4 Z" fill="none" stroke="#555" stroke-width="0.984" stroke-linecap="butt" stroke-linejoin="miter"/><path transform="translate(412.80,12.00) scale(1.0167)" d="M3.2,0.3 L0.5,5.2 M2.1,3.2 V12 M4.3,1.6 H12 M8,0 V3 M5.6,3.4 H10.6 V10 H5.6 Z M5.6,5.6 H10.6 M5.6,7.8 H10.6 M4.4,3.5 V11.4 H12" fill="none" stroke="#555" stroke-width="0.984" stroke-linecap="butt" stroke-linejoin="miter"/><text x="425.7" y="23.9" font-size="12.9" fill="#131722" textLength="37.7" lengthAdjust="spacingAndGlyphs">52,670</text><path transform="translate(470.30,12.00) scale(1.0167)" d="M6,0 V1.6 M0.8,4 V2 H11.2 V4 M0.4,7 H11.6 M5.2,3.8 L2.8,8.6 Q7,10 10.2,12 M8.6,7 Q7.5,10.5 1.2,12" fill="none" stroke="#555" stroke-width="0.984" stroke-linecap="butt" stroke-linejoin="miter"/><path transform="translate(484.50,12.00) scale(1.0167)" d="M3.2,0.3 L0.5,5.2 M2.1,3.2 V12 M4.3,1.6 H12 M8,0 V3 M5.6,3.4 H10.6 V10 H5.6 Z M5.6,5.6 H10.6 M5.6,7.8 H10.6 M4.4,3.5 V11.4 H12" fill="none" stroke="#555" stroke-width="0.984" stroke-linecap="butt" stroke-linejoin="miter"/><text x="497.4" y="23.9" font-size="12.9" fill="#131722" textLength="37.8" lengthAdjust="spacingAndGlyphs">52,090</text><path transform="translate(542.10,12.00) scale(1.0167)" d="M2.6,0.4 L1,3.4 L3.6,4.4 M3.8,2 L0.4,7.6 L5,7 M2.6,7.4 V12 M1.2,9 L0.3,11.4 M3.9,9 L5,11 M8.4,0.4 L6,4.2 M7.4,2 H11 Q9,6 6.4,7.4 M8.6,3.6 Q10,6 12,7.2 M8.4,8 L10,9 M7.4,10 L10.2,11.6" fill="none" stroke="#555" stroke-width="0.984" stroke-linecap="butt" stroke-linejoin="miter"/><path transform="translate(556.30,12.00) scale(1.0167)" d="M3.2,0.3 L0.5,5.2 M2.1,3.2 V12 M4.3,1.6 H12 M8,0 V3 M5.6,3.4 H10.6 V10 H5.6 Z M5.6,5.6 H10.6 M5.6,7.8 H10.6 M4.4,3.5 V11.4 H12" fill="none" stroke="#555" stroke-width="0.984" stroke-linecap="butt" stroke-linejoin="miter"/><text x="569.1" y="23.9" font-size="12.9" fill="#131722" textLength="37.8" lengthAdjust="spacingAndGlyphs">52,270</text><text x="613.8" y="23.9" font-size="12.9" fill="#131722" textLength="25.8" lengthAdjust="spacingAndGlyphs">−200</text><text x="645.8" y="23.9" font-size="12.9" fill="#131722" textLength="47.2" lengthAdjust="spacingAndGlyphs">(−0.38%)</text><rect x="11.6" y="36.6" width="60.6" height="32.5" rx="5" fill="#fff" stroke="#f23645" stroke-width="1"/><text x="41.8" y="49.9" font-size="12" fill="#f23645" text-anchor="middle" textLength="38.5" lengthAdjust="spacingAndGlyphs">52,260</text><path transform="translate(29.80,54.00) scale(0.9333)" d="M1,1.6 H11 M6,0 V4 M2.4,4 H9.6 M0.8,7 V5.6 H11.2 V7 M4.3,7 Q4.3,10.6 1,12 M7.6,7 V11 Q7.6,11.8 8.6,11.8 H11.4 V10.2" fill="none" stroke="#f23645" stroke-width="1.071" stroke-linecap="butt" stroke-linejoin="miter"/><path transform="translate(41.60,54.00) scale(0.9333)" d="M3,1 V7.4 M8.2,1.2 V6.5 Q8.2,10.6 4.4,12" fill="none" stroke="#f23645" stroke-width="1.071" stroke-linecap="butt" stroke-linejoin="miter"/><text x="80.5" y="56.1" font-size="10" fill="#131722" textLength="10.6" lengthAdjust="spacingAndGlyphs">20</text><rect x="99.9" y="36.6" width="60.4" height="32.5" rx="5" fill="#fff" stroke="#2962ff" stroke-width="1"/><text x="130.1" y="49.9" font-size="12" fill="#2962ff" text-anchor="middle" textLength="38.5" lengthAdjust="spacingAndGlyphs">52,280</text><path transform="translate(118.00,54.00) scale(0.9333)" d="M1,0.6 H11 V3.8 H1 Z M4.3,0.6 V3.8 M7.7,0.6 V3.8 M2.8,5 H9.2 V10.2 H2.8 Z M2.8,6.7 H9.2 M2.8,8.4 H9.2 M4.6,10.4 L1.4,12 M7.4,10.4 L10.6,12" fill="none" stroke="#2962ff" stroke-width="0.911" stroke-linecap="butt" stroke-linejoin="miter"/><path transform="translate(129.80,54.00) scale(0.9333)" d="M2.4,2 Q1.6,9.6 3.8,10.6 M8.4,3.6 Q10.6,6 10.8,9.4" fill="none" stroke="#2962ff" stroke-width="1.071" stroke-linecap="butt" stroke-linejoin="miter"/><rect x="11.8" y="77.9" width="30.2" height="19" rx="3" fill="none" stroke="#e6e8ee"/><path d="M17.2,85.2 L21.4,89.4 L25.6,85.2" fill="none" stroke="#131722" stroke-width="1.3"/><text x="30.6" y="91.8" font-size="12" fill="#131722">2</text></svg>
</body></html>
